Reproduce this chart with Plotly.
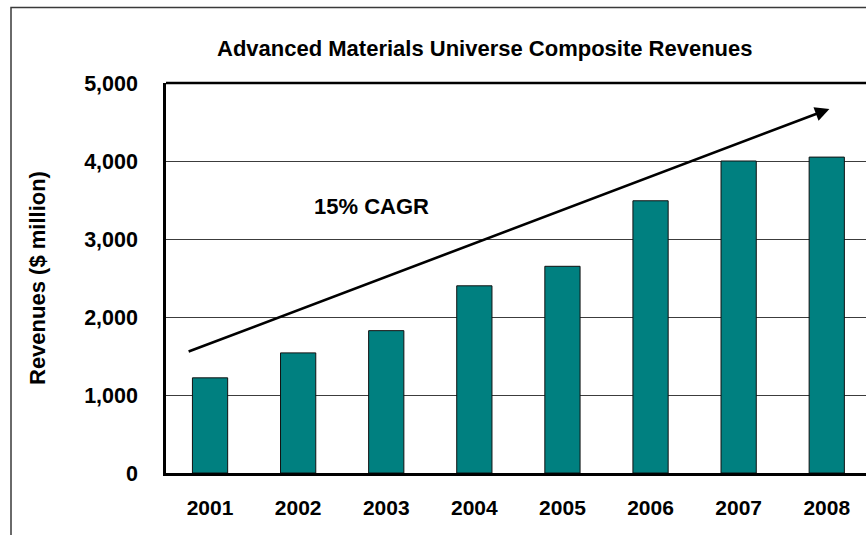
import plotly.graph_objects as go

# Revenue series ($ million)
years = ["2001", "2002", "2003", "2004", "2005", "2006", "2007", "2008"]
revenues = [1220, 1540, 1825, 2400, 2650, 3490, 4000, 4050]
y_ticks = [0, 1000, 2000, 3000, 4000, 5000]
y_tick_labels = ["0", "1,000", "2,000", "3,000", "4,000", "5,000"]

# Trend arrow endpoints (category position, $ million)
trend_start = (-0.26, 1550)
trend_end = (7.03, 4667)

W, H = 866, 535
ML, MR, MT, MB = 166, 0, 83, 62
PW, PH = W - ML - MR, H - MT - MB


def px_x(p):
    return (p - ML) / PW


def px_y(p):
    return (H - MB - p) / PH


FONT = "Liberation Sans, Arial, sans-serif"

fig = go.Figure(
    go.Bar(
        x=list(range(len(years))),
        y=revenues,
        width=0.4,
        marker=dict(color="#008080", line=dict(color="#111111", width=1)),
    )
)

fig.update_layout(
    width=W,
    height=H,
    margin=dict(l=ML, r=MR, t=MT, b=MB),
    paper_bgcolor="white",
    plot_bgcolor="white",
    showlegend=False,
    font=dict(family=FONT, color="black", size=21, weight="bold"),
)

fig.update_xaxes(
    range=[-0.5, -0.5 + PW / 88.1],
    tickvals=list(range(len(years))),
    ticktext=years,
    showline=True,
    linecolor="black",
    linewidth=2.5,
    showgrid=False,
    zeroline=False,
    ticks="",
    ticklabelstandoff=14,
    tickfont=dict(size=21, family=FONT, weight="bold"),
)

fig.update_yaxes(
    range=[0, 5000],
    tickvals=y_ticks,
    ticktext=y_tick_labels,
    showline=True,
    linecolor="black",
    linewidth=2.5,
    showgrid=True,
    gridcolor="#3c3c3c",
    gridwidth=1,
    zeroline=False,
    ticks="",
    ticklabelstandoff=21,
    tickfont=dict(size=21.5, family=FONT, weight="bold"),
)

shapes = [
    # top edge of the plotting frame
    dict(type="line", xref="paper", yref="paper", x0=0, x1=1.02, y0=1, y1=1,
         line=dict(color="black", width=2.5)),
    # outer panel border (left and top)
    dict(type="path", xref="paper", yref="paper",
         path=f"M {px_x(11)} {px_y(545)} L {px_x(11)} {px_y(7.5)} L {px_x(880)} {px_y(7.5)}",
         line=dict(color="#3a3a3a", width=1.5)),
]

annotations = [
    dict(text="Advanced Materials Universe Composite Revenues", xref="paper", yref="paper",
         x=px_x(485), y=px_y(48), xanchor="center", yanchor="middle", showarrow=False,
         font=dict(size=22, family=FONT, weight="bold")),
    dict(text="Revenues ($ million)", xref="paper", yref="paper",
         x=px_x(37), y=0.5, xanchor="center", yanchor="middle", textangle=-90,
         showarrow=False, font=dict(size=22, family=FONT, weight="bold")),
    dict(text="15% CAGR", xref="x", yref="y", x=1.83, y=3414,
         xanchor="center", yanchor="middle", showarrow=False,
         font=dict(size=22, family=FONT, weight="bold")),
    dict(text="", xref="x", yref="y", x=trend_end[0], y=trend_end[1],
         axref="x", ayref="y", ax=trend_start[0], ay=trend_start[1],
         showarrow=True, arrowhead=2, arrowsize=1.1, arrowwidth=2.6, arrowcolor="black"),
]

fig.update_layout(shapes=shapes, annotations=annotations)

fig.write_html("out.html")
